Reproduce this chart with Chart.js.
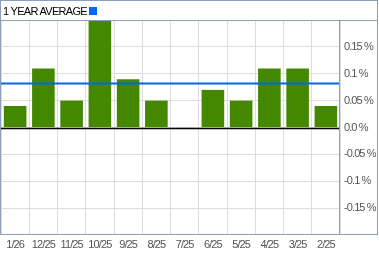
<!DOCTYPE html>
<html><head><meta charset="utf-8">
<script src="https://cdn.jsdelivr.net/npm/chart.js@4/dist/chart.umd.min.js"></script>
<style>
html,body{margin:0;padding:0;background:#fff;}
#wrap{position:relative;width:379px;height:255px;}
#hdr{position:absolute;left:3px;top:5px;font:11px "Liberation Sans",Arial,sans-serif;letter-spacing:-0.7px;color:#000;white-space:nowrap;line-height:12px;}
#hdr span{display:inline-block;width:8px;height:8px;background:#0066ff;margin-left:2px;vertical-align:0px;}
</style></head>
<body>
<div id="wrap"><canvas id="c" width="379" height="255"></canvas><div id="hdr">1 YEAR AVERAGE<span></span></div></div>
<script>
const categories = ["1/26","12/25","11/25","10/25","9/25","8/25","7/25","6/25","5/25","4/25","3/25","2/25"];
const values = [0.04,0.11,0.05,0.2,0.09,0.05,0,0.07,0.05,0.11,0.11,0.04];
const average = [0.082];
const yTicks = [-0.15,-0.1,-0.05,0,0.05,0.1,0.15];
const yLabels = ["-0.15 %","-0.1 %","-0.05 %","0.0 %","0.05 %","0.1 %","0.15 %"];

const frame = {
  id:'frame',
  beforeDraw(chart){ chart.ctx.letterSpacing='-0.9px'; },
  beforeDatasetsDraw(chart){
    const {ctx, chartArea:a, scales:{y}} = chart;
    ctx.save();
    const z = Math.round(y.getPixelForValue(0))+0.5;
    ctx.strokeStyle='#000'; ctx.lineWidth=1.5;
    ctx.beginPath(); ctx.moveTo(a.left,z); ctx.lineTo(a.right,z); ctx.stroke();
    ctx.restore();
  },
  afterDatasetsDraw(chart){
    const {ctx, chartArea:a, scales:{y}} = chart;
    ctx.save();
    const p = y.getPixelForValue(average[0]);
    ctx.strokeStyle='#0066ee'; ctx.lineWidth=2;
    ctx.beginPath(); ctx.moveTo(a.left,p); ctx.lineTo(a.right,p); ctx.stroke();
    ctx.strokeStyle='#8aa0b8'; ctx.lineWidth=1;
    ctx.strokeRect(0.5,0.5,377,234);
    ctx.beginPath();
    ctx.moveTo(0,20.5); ctx.lineTo(378,20.5);
    ctx.moveTo(339.5,20); ctx.lineTo(339.5,235);
    ctx.stroke();
    ctx.restore();
  },
  afterDraw(chart){ chart.ctx.letterSpacing='0px'; }
};

const axisFont = {family:'"Liberation Sans", Arial', size:11};
new Chart(document.getElementById('c'), {
  type:'bar',
  data:{labels:categories, datasets:[{data:values, backgroundColor:'#448800', barPercentage:0.8, categoryPercentage:1}]},
  options:{
    responsive:false, animation:false, devicePixelRatio:1,
    layout:{padding:{top:20,left:1,right:0,bottom:0}},
    plugins:{legend:{display:false}, tooltip:{enabled:false}},
    scales:{
      x:{offset:true, grid:{offset:true, color:'#dddddd', drawTicks:false}, border:{display:false},
         ticks:{color:'#555', font:axisFont, padding:3, maxRotation:0, autoSkip:false},
         afterFit(s){s.height=20;}},
      y:{position:'right', min:-0.2, max:0.2,
         afterBuildTicks(s){s.ticks = yTicks.map(v=>({value:v}));},
         grid:{color:'#dddddd', drawTicks:false}, border:{display:false},
         ticks:{color:'#555', font:axisFont, padding:4, crossAlign:'near',
           callback(v){const i=yTicks.findIndex(t=>Math.abs(t-v)<1e-9); return i>=0?yLabels[i]:'';}},
         afterFit(s){s.width=39;}}
    }
  },
  plugins:[frame]
});
</script>
</body></html>
